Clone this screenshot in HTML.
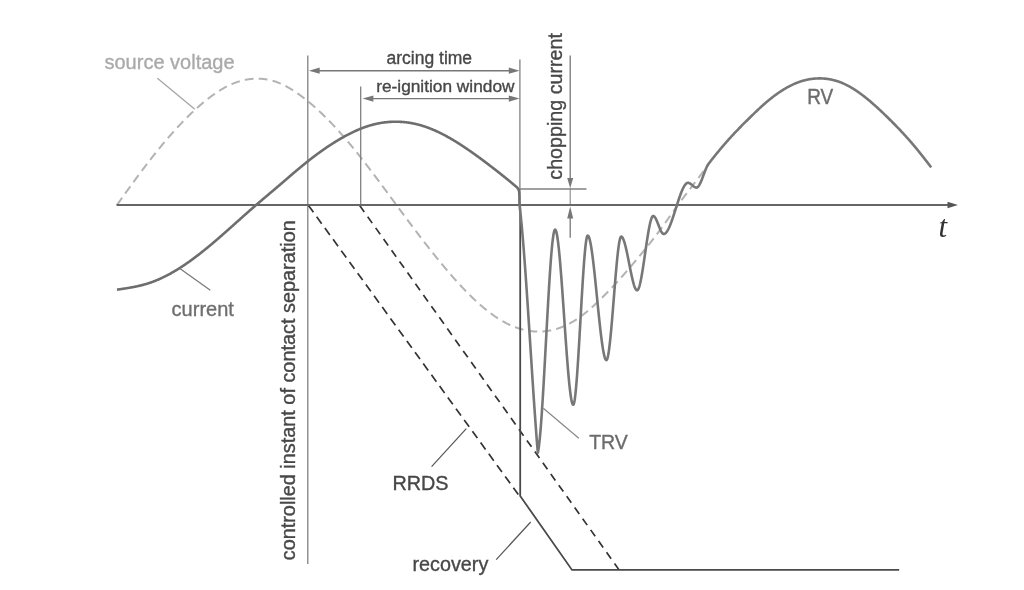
<!DOCTYPE html>
<html><head><meta charset="utf-8"><title>TRV diagram</title>
<style>html,body{margin:0;padding:0;background:#fff;}svg{display:block;}</style>
</head><body>
<svg width="1024" height="590" viewBox="0 0 1024 590">
<path d="M117.00,204.90 L117.50,204.21 L118.00,203.51 L118.50,202.81 L119.00,202.11 L119.50,201.42 L120.00,200.72 L120.50,200.02 L121.00,199.33 L121.50,198.63 L122.00,197.94 L122.50,197.24 L123.00,196.54 L123.50,195.85 L124.00,195.15 L124.50,194.46 L125.00,193.76 L125.50,193.07 L126.00,192.38 L126.50,191.68 L127.00,190.99 L127.50,190.30 L128.00,189.61 L128.50,188.92 L129.00,188.23 L129.50,187.54 L130.00,186.85 L130.50,186.16 L131.00,185.47 L131.50,184.78 L132.00,184.10 L132.50,183.41 L133.00,182.73 L133.50,182.04 L134.00,181.36 L134.50,180.68 L135.00,179.99 L135.50,179.31 L136.00,178.63 L136.50,177.95 L137.00,177.28 L137.50,176.60 L138.00,175.92 L138.50,175.25 L139.00,174.57 L139.50,173.90 L140.00,173.23 L140.50,172.56 L141.00,171.89 L141.50,171.22 L142.00,170.55 L142.50,169.89 L143.00,169.22 L143.50,168.56 L144.00,167.90 L144.50,167.23 L145.00,166.58 L145.50,165.92 L146.00,165.26 L146.50,164.60 L147.00,163.95 L147.50,163.30 L148.00,162.65 L148.50,162.00 L149.00,161.35 L149.50,160.70 L150.00,160.06 L150.50,159.41 L151.00,158.77 L151.50,158.13 L152.00,157.49 L152.50,156.86 L153.00,156.22 L153.50,155.59 L154.00,154.96 L154.50,154.33 L155.00,153.70 L155.50,153.07 L156.00,152.45 L156.50,151.82 L157.00,151.20 L157.50,150.58 L158.00,149.96 L158.50,149.35 L159.00,148.73 L159.50,148.12 L160.00,147.51 L160.50,146.90 L161.00,146.29 L161.50,145.69 L162.00,145.08 L162.50,144.48 L163.00,143.88 L163.50,143.28 L164.00,142.69 L164.50,142.09 L165.00,141.50 L165.50,140.91 L166.00,140.32 L166.50,139.74 L167.00,139.15 L167.50,138.57 L168.00,137.99 L168.50,137.41 L169.00,136.83 L169.50,136.26 L170.00,135.68 L170.50,135.11 L171.00,134.54 L171.50,133.98 L172.00,133.41 L172.50,132.85 L173.00,132.29 L173.50,131.73 L174.00,131.17 L174.50,130.62 L175.00,130.07 L175.50,129.52 L176.00,128.97 L176.50,128.42 L177.00,127.88 L177.50,127.34 L178.00,126.80 L178.50,126.26 L179.00,125.73 L179.50,125.19 L180.00,124.66 L180.50,124.13 L181.00,123.61 L181.50,123.08 L182.00,122.56 L182.50,122.04 L183.00,121.52 L183.50,121.01 L184.00,120.49 L184.50,119.98 L185.00,119.47 L185.50,118.97 L186.00,118.47 L186.50,117.96 L187.00,117.46 L187.50,116.97 L188.00,116.47 L188.50,115.98 L189.00,115.49 L189.50,115.00 L190.00,114.52 L190.50,114.04 L191.00,113.56 L191.50,113.08 L192.00,112.60 L192.50,112.13 L193.00,111.66 L193.50,111.19 L194.00,110.73 L194.50,110.26 L195.00,109.80 L195.50,109.35 L196.00,108.89 L196.50,108.44 L197.00,107.99 L197.50,107.54 L198.00,107.09 L198.50,106.65 L199.00,106.21 L199.50,105.77 L200.00,105.34 L200.50,104.91 L201.00,104.48 L201.50,104.05 L202.00,103.62 L202.50,103.20 L203.00,102.78 L203.50,102.37 L204.00,101.95 L204.50,101.54 L205.00,101.14 L205.50,100.73 L206.00,100.33 L206.50,99.93 L207.00,99.53 L207.50,99.14 L208.00,98.75 L208.50,98.36 L209.00,97.98 L209.50,97.60 L210.00,97.22 L210.50,96.84 L211.00,96.47 L211.50,96.10 L212.00,95.74 L212.50,95.38 L213.00,95.02 L213.50,94.66 L214.00,94.31 L214.50,93.96 L215.00,93.61 L215.50,93.27 L216.00,92.93 L216.50,92.60 L217.00,92.26 L217.50,91.93 L218.00,91.61 L218.50,91.29 L219.00,90.97 L219.50,90.65 L220.00,90.34 L220.50,90.04 L221.00,89.73 L221.50,89.43 L222.00,89.13 L222.50,88.84 L223.00,88.55 L223.50,88.27 L224.00,87.99 L224.50,87.71 L225.00,87.43 L225.50,87.16 L226.00,86.90 L226.50,86.64 L227.00,86.38 L227.50,86.12 L228.00,85.87 L228.50,85.63 L229.00,85.39 L229.50,85.15 L230.00,84.91 L230.50,84.68 L231.00,84.46 L231.50,84.24 L232.00,84.02 L232.50,83.81 L233.00,83.60 L233.50,83.39 L234.00,83.19 L234.50,83.00 L235.00,82.81 L235.50,82.62 L236.00,82.44 L236.50,82.26 L237.00,82.08 L237.50,81.91 L238.00,81.75 L238.50,81.59 L239.00,81.43 L239.50,81.28 L240.00,81.13 L240.50,80.99 L241.00,80.85 L241.50,80.72 L242.00,80.59 L242.50,80.46 L243.00,80.34 L243.50,80.22 L244.00,80.11 L244.50,80.00 L245.00,79.89 L245.50,79.79 L246.00,79.70 L246.50,79.61 L247.00,79.52 L247.50,79.44 L248.00,79.36 L248.50,79.28 L249.00,79.21 L249.50,79.15 L250.00,79.09 L250.50,79.03 L251.00,78.97 L251.50,78.92 L252.00,78.88 L252.50,78.84 L253.00,78.80 L253.50,78.77 L254.00,78.74 L254.50,78.72 L255.00,78.69 L255.50,78.68 L256.00,78.67 L256.50,78.66 L257.00,78.65 L257.50,78.65 L258.00,78.66 L258.50,78.67 L259.00,78.68 L259.50,78.70 L260.00,78.72 L260.50,78.74 L261.00,78.77 L261.50,78.81 L262.00,78.85 L262.50,78.89 L263.00,78.94 L263.50,78.99 L264.00,79.04 L264.50,79.10 L265.00,79.17 L265.50,79.24 L266.00,79.31 L266.50,79.39 L267.00,79.47 L267.50,79.56 L268.00,79.66 L268.50,79.75 L269.00,79.85 L269.50,79.96 L270.00,80.07 L270.50,80.19 L271.00,80.31 L271.50,80.44 L272.00,80.57 L272.50,80.70 L273.00,80.85 L273.50,80.99 L274.00,81.14 L274.50,81.30 L275.00,81.46 L275.50,81.62 L276.00,81.80 L276.50,81.97 L277.00,82.15 L277.50,82.34 L278.00,82.53 L278.50,82.73 L279.00,82.93 L279.50,83.13 L280.00,83.34 L280.50,83.56 L281.00,83.78 L281.50,84.00 L282.00,84.23 L282.50,84.47 L283.00,84.71 L283.50,84.95 L284.00,85.20 L284.50,85.45 L285.00,85.70 L285.50,85.96 L286.00,86.23 L286.50,86.50 L287.00,86.77 L287.50,87.05 L288.00,87.33 L288.50,87.61 L289.00,87.90 L289.50,88.19 L290.00,88.49 L290.50,88.79 L291.00,89.09 L291.50,89.40 L292.00,89.71 L292.50,90.03 L293.00,90.34 L293.50,90.67 L294.00,90.99 L294.50,91.32 L295.00,91.65 L295.50,91.99 L296.00,92.33 L296.50,92.67 L297.00,93.01 L297.50,93.36 L298.00,93.71 L298.50,94.07 L299.00,94.42 L299.50,94.78 L300.00,95.15 L300.50,95.51 L301.00,95.88 L301.50,96.25 L302.00,96.63 L302.50,97.00 L303.00,97.38 L303.50,97.77 L304.00,98.15 L304.50,98.54 L305.00,98.93 L305.50,99.32 L306.00,99.72 L306.50,100.12 L307.00,100.52 L307.50,100.93 L308.00,101.33 L308.50,101.74 L309.00,102.15 L309.50,102.57 L310.00,102.99 L310.50,103.41 L311.00,103.83 L311.50,104.26 L312.00,104.68 L312.50,105.11 L313.00,105.55 L313.50,105.98 L314.00,106.42 L314.50,106.86 L315.00,107.31 L315.50,107.75 L316.00,108.20 L316.50,108.65 L317.00,109.11 L317.50,109.56 L318.00,110.02 L318.50,110.48 L319.00,110.95 L319.50,111.41 L320.00,111.88 L320.50,112.35 L321.00,112.83 L321.50,113.30 L322.00,113.78 L322.50,114.26 L323.00,114.75 L323.50,115.23 L324.00,115.72 L324.50,116.21 L325.00,116.70 L325.50,117.20 L326.00,117.70 L326.50,118.20 L327.00,118.70 L327.50,119.20 L328.00,119.71 L328.50,120.22 L329.00,120.73 L329.50,121.24 L330.00,121.76 L330.50,122.28 L331.00,122.80 L331.50,123.32 L332.00,123.85 L332.50,124.37 L333.00,124.90 L333.50,125.43 L334.00,125.97 L334.50,126.50 L335.00,127.04 L335.50,127.58 L336.00,128.12 L336.50,128.67 L337.00,129.22 L337.50,129.76 L338.00,130.32 L338.50,130.87 L339.00,131.42 L339.50,131.98 L340.00,132.54 L340.50,133.10 L341.00,133.67 L341.50,134.23 L342.00,134.80 L342.50,135.37 L343.00,135.94 L343.50,136.51 L344.00,137.09 L344.50,137.67 L345.00,138.25 L345.50,138.83 L346.00,139.41 L346.50,140.00 L347.00,140.59 L347.50,141.18 L348.00,141.77 L348.50,142.36 L349.00,142.96 L349.50,143.55 L350.00,144.15 L350.50,144.75 L351.00,145.36 L351.50,145.96 L352.00,146.57 L352.50,147.18 L353.00,147.79 L353.50,148.40 L354.00,149.01 L354.50,149.63 L355.00,150.24 L355.50,150.86 L356.00,151.48 L356.50,152.10 L357.00,152.73 L357.50,153.35 L358.00,153.98 L358.50,154.61 L359.00,155.24 L359.50,155.87 L360.00,156.50 L360.50,157.13 L361.00,157.77 L361.50,158.41 L362.00,159.04 L362.50,159.68 L363.00,160.32 L363.50,160.97 L364.00,161.61 L364.50,162.25 L365.00,162.90 L365.50,163.55 L366.00,164.20 L366.50,164.85 L367.00,165.50 L367.50,166.15 L368.00,166.80 L368.50,167.45 L369.00,168.11 L369.50,168.77 L370.00,169.42 L370.50,170.08 L371.00,170.74 L371.50,171.40 L372.00,172.06 L372.50,172.72 L373.00,173.38 L373.50,174.05 L374.00,174.71 L374.50,175.38 L375.00,176.04 L375.50,176.71 L376.00,177.38 L376.50,178.04 L377.00,178.71 L377.50,179.38 L378.00,180.05 L378.50,180.72 L379.00,181.40 L379.50,182.07 L380.00,182.74 L380.50,183.41 L381.00,184.09 L381.50,184.76 L382.00,185.44 L382.50,186.11 L383.00,186.79 L383.50,187.46 L384.00,188.14 L384.50,188.81 L385.00,189.49 L385.50,190.17 L386.00,190.85 L386.50,191.52 L387.00,192.20 L387.50,192.88 L388.00,193.56 L388.50,194.24 L389.00,194.92 L389.50,195.59 L390.00,196.27 L390.50,196.95 L391.00,197.63 L391.50,198.31 L392.00,198.99 L392.50,199.67 L393.00,200.35 L393.50,201.03 L394.00,201.71 L394.50,202.39 L395.00,203.07 L395.50,203.74 L396.00,204.42 L396.50,205.10 L397.00,205.78 L397.50,206.46 L398.00,207.14 L398.50,207.81 L399.00,208.49 L399.50,209.17 L400.00,209.84 L400.50,210.52 L401.00,211.20 L401.50,211.87 L402.00,212.55 L402.50,213.22 L403.00,213.90 L403.50,214.57 L404.00,215.25 L404.50,215.92 L405.00,216.59 L405.50,217.27 L406.00,217.94 L406.50,218.61 L407.00,219.28 L407.50,219.95 L408.00,220.62 L408.50,221.29 L409.00,221.96 L409.50,222.63 L410.00,223.30 L410.50,223.97 L411.00,224.64 L411.50,225.30 L412.00,225.97 L412.50,226.63 L413.00,227.30 L413.50,227.96 L414.00,228.62 L414.50,229.29 L415.00,229.95 L415.50,230.61 L416.00,231.27 L416.50,231.93 L417.00,232.59 L417.50,233.25 L418.00,233.91 L418.50,234.56 L419.00,235.22 L419.50,235.87 L420.00,236.53 L420.50,237.18 L421.00,237.83 L421.50,238.48 L422.00,239.14 L422.50,239.79 L423.00,240.43 L423.50,241.08 L424.00,241.73 L424.50,242.38 L425.00,243.02 L425.50,243.66 L426.00,244.31 L426.50,244.95 L427.00,245.59 L427.50,246.23 L428.00,246.87 L428.50,247.51 L429.00,248.14 L429.50,248.78 L430.00,249.41 L430.50,250.05 L431.00,250.68 L431.50,251.31 L432.00,251.94 L432.50,252.57 L433.00,253.20 L433.50,253.82 L434.00,254.45 L434.50,255.07 L435.00,255.70 L435.50,256.32 L436.00,256.94 L436.50,257.56 L437.00,258.17 L437.50,258.79 L438.00,259.41 L438.50,260.02 L439.00,260.63 L439.50,261.24 L440.00,261.85 L440.50,262.46 L441.00,263.07 L441.50,263.67 L442.00,264.28 L442.50,264.88 L443.00,265.48 L443.50,266.08 L444.00,266.68 L444.50,267.27 L445.00,267.87 L445.50,268.46 L446.00,269.05 L446.50,269.64 L447.00,270.23 L447.50,270.82 L448.00,271.40 L448.50,271.99 L449.00,272.57 L449.50,273.15 L450.00,273.73 L450.50,274.31 L451.00,274.88 L451.50,275.45 L452.00,276.03 L452.50,276.60 L453.00,277.17 L453.50,277.73 L454.00,278.30 L454.50,278.86 L455.00,279.42 L455.50,279.98 L456.00,280.54 L456.50,281.09 L457.00,281.65 L457.50,282.20 L458.00,282.75 L458.50,283.29 L459.00,283.84 L459.50,284.38 L460.00,284.92 L460.50,285.46 L461.00,286.00 L461.50,286.53 L462.00,287.07 L462.50,287.60 L463.00,288.13 L463.50,288.65 L464.00,289.18 L464.50,289.70 L465.00,290.22 L465.50,290.73 L466.00,291.25 L466.50,291.76 L467.00,292.27 L467.50,292.78 L468.00,293.28 L468.50,293.79 L469.00,294.29 L469.50,294.78 L470.00,295.28 L470.50,295.77 L471.00,296.26 L471.50,296.75 L472.00,297.23 L472.50,297.72 L473.00,298.20 L473.50,298.67 L474.00,299.15 L474.50,299.62 L475.00,300.09 L475.50,300.56 L476.00,301.02 L476.50,301.48 L477.00,301.94 L477.50,302.39 L478.00,302.85 L478.50,303.30 L479.00,303.74 L479.50,304.19 L480.00,304.63 L480.50,305.07 L481.00,305.50 L481.50,305.93 L482.00,306.36 L482.50,306.79 L483.00,307.21 L483.50,307.63 L484.00,308.05 L484.50,308.46 L485.00,308.87 L485.50,309.28 L486.00,309.68 L486.50,310.09 L487.00,310.48 L487.50,310.88 L488.00,311.27 L488.50,311.66 L489.00,312.04 L489.50,312.42 L490.00,312.80 L490.50,313.18 L491.00,313.55 L491.50,313.92 L492.00,314.28 L492.50,314.64 L493.00,315.00 L493.50,315.35 L494.00,315.71 L494.50,316.05 L495.00,316.40 L495.50,316.74 L496.00,317.07 L496.50,317.41 L497.00,317.74 L497.50,318.06 L498.00,318.38 L498.50,318.70 L499.00,319.02 L499.50,319.33 L500.00,319.63 L500.50,319.94 L501.00,320.24 L501.50,320.53 L502.00,320.83 L502.50,321.11 L503.00,321.40 L503.50,321.68 L504.00,321.96 L504.50,322.23 L505.00,322.50 L505.50,322.76 L506.00,323.02 L506.50,323.28 L507.00,323.54 L507.50,323.79 L508.00,324.03 L508.50,324.27 L509.00,324.51 L509.50,324.75 L510.00,324.98 L510.50,325.21 L511.00,325.43 L511.50,325.65 L512.00,325.86 L512.50,326.07 L513.00,326.28 L513.50,326.49 L514.00,326.69 L514.50,326.88 L515.00,327.07 L515.50,327.26 L516.00,327.45 L516.50,327.63 L517.00,327.80 L517.50,327.97 L518.00,328.14 L518.50,328.31 L519.00,328.47 L519.50,328.62 L520.00,328.78 L520.50,328.93 L521.00,329.07 L521.50,329.21 L522.00,329.35 L522.50,329.48 L523.00,329.61 L523.50,329.73 L524.00,329.86 L524.50,329.97 L525.00,330.09 L525.50,330.19 L526.00,330.30 L526.50,330.40 L527.00,330.50 L527.50,330.59 L528.00,330.68 L528.50,330.76 L529.00,330.84 L529.50,330.92 L530.00,330.99 L530.50,331.06 L531.00,331.13 L531.50,331.19 L532.00,331.24 L532.50,331.30 L533.00,331.34 L533.50,331.39 L534.00,331.43 L534.50,331.46 L535.00,331.50 L535.50,331.52 L536.00,331.55 L536.50,331.57 L537.00,331.58 L537.50,331.59 L538.00,331.60 L538.50,331.61 L539.00,331.60 L539.50,331.60 L540.00,331.59 L540.50,331.58 L541.00,331.56 L541.50,331.54 L542.00,331.51 L542.50,331.48 L543.00,331.45 L543.50,331.41 L544.00,331.37 L544.50,331.32 L545.00,331.27 L545.50,331.22 L546.00,331.16 L546.50,331.09 L547.00,331.02 L547.50,330.95 L548.00,330.88 L548.50,330.80 L549.00,330.71 L549.50,330.62 L550.00,330.53 L550.50,330.43 L551.00,330.33 L551.50,330.23 L552.00,330.12 L552.50,330.00 L553.00,329.88 L553.50,329.76 L554.00,329.63 L554.50,329.50 L555.00,329.37 L555.50,329.23 L556.00,329.08 L556.50,328.94 L557.00,328.78 L557.50,328.63 L558.00,328.46 L558.50,328.30 L559.00,328.13 L559.50,327.95 L560.00,327.77 L560.50,327.59 L561.00,327.40 L561.50,327.21 L562.00,327.02 L562.50,326.82 L563.00,326.61 L563.50,326.40 L564.00,326.19 L564.50,325.97 L565.00,325.75 L565.50,325.52 L566.00,325.29 L566.50,325.05 L567.00,324.81 L567.50,324.57 L568.00,324.32 L568.50,324.07 L569.00,323.81 L569.50,323.55 L570.00,323.28 L570.50,323.01 L571.00,322.74 L571.50,322.46 L572.00,322.17 L572.50,321.88 L573.00,321.59 L573.50,321.29 L574.00,320.99 L574.50,320.68 L575.00,320.37 L575.50,320.06 L576.00,319.74 L576.50,319.41 L577.00,319.08 L577.50,318.75 L578.00,318.41 L578.50,318.07 L579.00,317.72 L579.50,317.37 L580.00,317.01 L580.50,316.65 L581.00,316.29 L581.50,315.92 L582.00,315.54 L582.50,315.16 L583.00,314.78 L583.50,314.39 L584.00,314.00 L584.50,313.61 L585.00,313.21 L585.50,312.81 L586.00,312.40 L586.50,311.99 L587.00,311.58 L587.50,311.16 L588.00,310.74 L588.50,310.31 L589.00,309.89 L589.50,309.45 L590.00,309.02 L590.50,308.58 L591.00,308.14 L591.50,307.70 L592.00,307.25 L592.50,306.80 L593.00,306.35 L593.50,305.89 L594.00,305.43 L594.50,304.97 L595.00,304.51 L595.50,304.04 L596.00,303.57 L596.50,303.10 L597.00,302.63 L597.50,302.15 L598.00,301.68 L598.50,301.20 L599.00,300.72 L599.50,300.23 L600.00,299.75 L600.50,299.26 L601.00,298.77 L601.50,298.28 L602.00,297.78 L602.50,297.29 L603.00,296.79 L603.50,296.29 L604.00,295.79 L604.50,295.29 L605.00,294.79 L605.50,294.28 L606.00,293.77 L606.50,293.26 L607.00,292.75 L607.50,292.24 L608.00,291.72 L608.50,291.20 L609.00,290.69 L609.50,290.17 L610.00,289.64 L610.50,289.12 L611.00,288.59 L611.50,288.07 L612.00,287.54 L612.50,287.01 L613.00,286.47 L613.50,285.94 L614.00,285.40 L614.50,284.87 L615.00,284.33 L615.50,283.79 L616.00,283.24 L616.50,282.70 L617.00,282.15 L617.50,281.61 L618.00,281.06 L618.50,280.50 L619.00,279.95 L619.50,279.40 L620.00,278.84 L620.50,278.28 L621.00,277.72 L621.50,277.16 L622.00,276.60 L622.50,276.04 L623.00,275.47 L623.50,274.90 L624.00,274.34 L624.50,273.77 L625.00,273.19 L625.50,272.62 L626.00,272.05 L626.50,271.47 L627.00,270.89 L627.50,270.31 L628.00,269.74 L628.50,269.15 L629.00,268.57 L629.50,267.99 L630.00,267.40 L630.50,266.82 L631.00,266.23 L631.50,265.64 L632.00,265.05 L632.50,264.46 L633.00,263.87 L633.50,263.27 L634.00,262.68 L634.50,262.08 L635.00,261.49 L635.50,260.89 L636.00,260.29 L636.50,259.69 L637.00,259.09 L637.50,258.49 L638.00,257.89 L638.50,257.29 L639.00,256.68 L639.50,256.08 L640.00,255.47 L640.50,254.86 L641.00,254.26 L641.50,253.65 L642.00,253.04 L642.50,252.43 L643.00,251.82 L643.50,251.20 L644.00,250.59 L644.50,249.98 L645.00,249.36 L645.50,248.74 L646.00,248.12 L646.50,247.50 L647.00,246.88 L647.50,246.26 L648.00,245.63 L648.50,245.01 L649.00,244.38 L649.50,243.75 L650.00,243.12 L650.50,242.49 L651.00,241.85 L651.50,241.21 L652.00,240.58 L652.50,239.93 L653.00,239.29 L653.50,238.65 L654.00,238.00 L654.50,237.35 L655.00,236.70 L655.50,236.05 L656.00,235.39 L656.50,234.73 L657.00,234.07 L657.50,233.41 L658.00,232.74 L658.50,232.08 L659.00,231.41 L659.50,230.73 L660.00,230.06 L660.50,229.38 L661.00,228.70 L661.50,228.01 L662.00,227.33 L662.50,226.64 L663.00,225.95 L663.50,225.26 L664.00,224.56 L664.50,223.87 L665.00,223.17 L665.50,222.47 L666.00,221.77 L666.50,221.07 L667.00,220.37 L667.50,219.67 L668.00,218.97 L668.50,218.26 L669.00,217.56 L669.50,216.86 L670.00,216.15 L670.50,215.45 L671.00,214.74 L671.50,214.04 L672.00,213.34 L672.50,212.64 L673.00,211.93 L673.50,211.23 L674.00,210.53 L674.50,209.83 L675.00,209.14 L675.50,208.44 L676.00,207.75 L676.50,207.05 L677.00,206.36 L677.50,205.67 L678.00,204.99 L678.50,204.30 L679.00,203.62 L679.50,202.94 L680.00,202.26 L680.50,201.58 L681.00,200.91 L681.50,200.23 L682.00,199.56 L682.50,198.89 L683.00,198.22 L683.50,197.55 L684.00,196.89 L684.50,196.22 L685.00,195.56 L685.50,194.89 L686.00,194.23 L686.50,193.57 L687.00,192.91 L687.50,192.25 L688.00,191.59 L688.50,190.93 L689.00,190.28 L689.50,189.62 L690.00,188.96 L690.50,188.31 L691.00,187.65 L691.50,187.00 L692.00,186.34 L692.50,185.69 L693.00,185.03 L693.50,184.38 L694.00,183.72 L694.50,183.07 L695.00,182.42 L695.50,181.76 L696.00,181.11 L696.50,180.45 L697.00,179.80 L697.50,179.14 L698.00,178.48 L698.50,177.83 L699.00,177.17 L699.50,176.51 L700.00,175.85 L700.50,175.19 L701.00,174.53 L701.50,173.87 L702.00,173.21 L702.50,172.54 L703.00,171.88 L703.50,171.22 L704.00,170.55 L704.50,169.89 L705.00,169.22 L705.50,168.56 L706.00,167.89 L706.50,167.22 L707.00,166.56 L707.50,165.89 L708.00,165.22 L708.50,164.56" fill="none" stroke="#b3b3b3" stroke-width="2" stroke-dasharray="8.8 5.2"/>
<line x1="307.8" y1="55.5" x2="307.8" y2="564" stroke="#808080" stroke-width="1.3"/>
<line x1="360.7" y1="86.5" x2="360.7" y2="205" stroke="#808080" stroke-width="1.3"/>
<line x1="519.9" y1="59.5" x2="519.9" y2="205" stroke="#808080" stroke-width="1.3"/>
<line x1="318.7" y1="70.7" x2="509.8" y2="70.7" stroke="#777" stroke-width="1.4"/><path d="M308.9,70.7 L319.7,67.60000000000001 L319.7,73.8 Z" fill="#777"/><path d="M519.6,70.7 L508.8,67.60000000000001 L508.8,73.8 Z" fill="#777"/>
<line x1="372.40000000000003" y1="98.6" x2="509.8" y2="98.6" stroke="#777" stroke-width="1.4"/><path d="M362.6,98.6 L373.40000000000003,95.5 L373.40000000000003,101.69999999999999 Z" fill="#777"/><path d="M519.6,98.6 L508.8,95.5 L508.8,101.69999999999999 Z" fill="#777"/>
<line x1="520" y1="189" x2="586.5" y2="189" stroke="#808080" stroke-width="1.3"/>
<line x1="570.2" y1="55.5" x2="570.2" y2="179" stroke="#777" stroke-width="1.3"/>
<path d="M570.2,188.2 L567.2,178 L573.2,178 Z" fill="#777"/>
<line x1="570.2" y1="216" x2="570.2" y2="237.8" stroke="#777" stroke-width="1.3"/>
<line x1="570.2" y1="188" x2="570.2" y2="205" stroke="#888" stroke-width="1.1"/>
<path d="M570.2,206.6 L567.2,218.6 L573.2,218.6 Z" fill="#777"/>
<line x1="308.5" y1="205.5" x2="518.3" y2="494.5" stroke="#333" stroke-width="1.7" stroke-dasharray="8.45 5.5"/>
<line x1="359.7" y1="205.5" x2="619.1" y2="569.9" stroke="#333" stroke-width="1.7" stroke-dasharray="7.9 5.83"/>
<path d="M520.2,205 L520.2,496 L572,569.9 L899.2,569.9" fill="none" stroke="#4a4a4a" stroke-width="1.8" stroke-linejoin="miter"/>
<line x1="116.5" y1="205" x2="948" y2="205" stroke="#666" stroke-width="2"/>
<path d="M958,205 L947.5,201.8 L947.5,208.2 Z" fill="#555"/>
<path d="M117.00,289.68 L117.50,289.61 L118.00,289.53 L118.50,289.46 L119.00,289.39 L119.50,289.31 L120.00,289.24 L120.50,289.17 L121.00,289.09 L121.50,289.02 L122.00,288.95 L122.50,288.87 L123.00,288.79 L123.50,288.72 L124.00,288.64 L124.50,288.56 L125.00,288.49 L125.50,288.41 L126.00,288.33 L126.50,288.25 L127.00,288.17 L127.50,288.09 L128.00,288.00 L128.50,287.92 L129.00,287.84 L129.50,287.75 L130.00,287.66 L130.50,287.57 L131.00,287.48 L131.50,287.39 L132.00,287.30 L132.50,287.21 L133.00,287.11 L133.50,287.02 L134.00,286.92 L134.50,286.82 L135.00,286.72 L135.50,286.62 L136.00,286.52 L136.50,286.41 L137.00,286.30 L137.50,286.19 L138.00,286.08 L138.50,285.97 L139.00,285.86 L139.50,285.74 L140.00,285.62 L140.50,285.50 L141.00,285.38 L141.50,285.25 L142.00,285.13 L142.50,285.00 L143.00,284.87 L143.50,284.73 L144.00,284.60 L144.50,284.46 L145.00,284.32 L145.50,284.17 L146.00,284.03 L146.50,283.88 L147.00,283.73 L147.50,283.58 L148.00,283.42 L148.50,283.26 L149.00,283.10 L149.50,282.93 L150.00,282.77 L150.50,282.59 L151.00,282.42 L151.50,282.24 L152.00,282.07 L152.50,281.88 L153.00,281.70 L153.50,281.51 L154.00,281.32 L154.50,281.13 L155.00,280.93 L155.50,280.73 L156.00,280.53 L156.50,280.32 L157.00,280.12 L157.50,279.91 L158.00,279.69 L158.50,279.48 L159.00,279.26 L159.50,279.04 L160.00,278.82 L160.50,278.59 L161.00,278.36 L161.50,278.13 L162.00,277.89 L162.50,277.66 L163.00,277.42 L163.50,277.18 L164.00,276.93 L164.50,276.69 L165.00,276.44 L165.50,276.18 L166.00,275.93 L166.50,275.67 L167.00,275.41 L167.50,275.15 L168.00,274.89 L168.50,274.62 L169.00,274.35 L169.50,274.08 L170.00,273.81 L170.50,273.53 L171.00,273.25 L171.50,272.97 L172.00,272.69 L172.50,272.40 L173.00,272.12 L173.50,271.83 L174.00,271.53 L174.50,271.24 L175.00,270.94 L175.50,270.64 L176.00,270.34 L176.50,270.04 L177.00,269.73 L177.50,269.43 L178.00,269.12 L178.50,268.80 L179.00,268.49 L179.50,268.17 L180.00,267.86 L180.50,267.53 L181.00,267.21 L181.50,266.89 L182.00,266.56 L182.50,266.23 L183.00,265.90 L183.50,265.57 L184.00,265.24 L184.50,264.90 L185.00,264.56 L185.50,264.22 L186.00,263.88 L186.50,263.53 L187.00,263.19 L187.50,262.84 L188.00,262.49 L188.50,262.14 L189.00,261.79 L189.50,261.43 L190.00,261.07 L190.50,260.71 L191.00,260.35 L191.50,259.99 L192.00,259.63 L192.50,259.26 L193.00,258.89 L193.50,258.52 L194.00,258.15 L194.50,257.78 L195.00,257.41 L195.50,257.03 L196.00,256.65 L196.50,256.27 L197.00,255.89 L197.50,255.51 L198.00,255.13 L198.50,254.74 L199.00,254.35 L199.50,253.97 L200.00,253.58 L200.50,253.18 L201.00,252.79 L201.50,252.40 L202.00,252.00 L202.50,251.60 L203.00,251.20 L203.50,250.80 L204.00,250.40 L204.50,250.00 L205.00,249.60 L205.50,249.19 L206.00,248.78 L206.50,248.37 L207.00,247.97 L207.50,247.55 L208.00,247.14 L208.50,246.73 L209.00,246.32 L209.50,245.90 L210.00,245.48 L210.50,245.07 L211.00,244.65 L211.50,244.23 L212.00,243.81 L212.50,243.39 L213.00,242.96 L213.50,242.54 L214.00,242.12 L214.50,241.69 L215.00,241.26 L215.50,240.84 L216.00,240.41 L216.50,239.98 L217.00,239.55 L217.50,239.12 L218.00,238.69 L218.50,238.25 L219.00,237.82 L219.50,237.39 L220.00,236.95 L220.50,236.52 L221.00,236.08 L221.50,235.65 L222.00,235.21 L222.50,234.77 L223.00,234.33 L223.50,233.89 L224.00,233.45 L224.50,233.01 L225.00,232.57 L225.50,232.13 L226.00,231.69 L226.50,231.25 L227.00,230.81 L227.50,230.36 L228.00,229.92 L228.50,229.48 L229.00,229.03 L229.50,228.59 L230.00,228.14 L230.50,227.70 L231.00,227.25 L231.50,226.81 L232.00,226.36 L232.50,225.92 L233.00,225.47 L233.50,225.03 L234.00,224.58 L234.50,224.13 L235.00,223.69 L235.50,223.24 L236.00,222.79 L236.50,222.35 L237.00,221.90 L237.50,221.45 L238.00,221.01 L238.50,220.56 L239.00,220.11 L239.50,219.67 L240.00,219.22 L240.50,218.77 L241.00,218.33 L241.50,217.88 L242.00,217.43 L242.50,216.99 L243.00,216.54 L243.50,216.10 L244.00,215.65 L244.50,215.21 L245.00,214.76 L245.50,214.32 L246.00,213.88 L246.50,213.43 L247.00,212.99 L247.50,212.55 L248.00,212.11 L248.50,211.66 L249.00,211.22 L249.50,210.78 L250.00,210.34 L250.50,209.90 L251.00,209.46 L251.50,209.02 L252.00,208.59 L252.50,208.15 L253.00,207.71 L253.50,207.27 L254.00,206.84 L254.50,206.40 L255.00,205.97 L255.50,205.54 L256.00,205.10 L256.50,204.67 L257.00,204.24 L257.50,203.81 L258.00,203.38 L258.50,202.95 L259.00,202.52 L259.50,202.09 L260.00,201.67 L260.50,201.24 L261.00,200.81 L261.50,200.39 L262.00,199.96 L262.50,199.54 L263.00,199.11 L263.50,198.69 L264.00,198.26 L264.50,197.84 L265.00,197.42 L265.50,196.99 L266.00,196.57 L266.50,196.15 L267.00,195.73 L267.50,195.30 L268.00,194.88 L268.50,194.46 L269.00,194.04 L269.50,193.62 L270.00,193.19 L270.50,192.77 L271.00,192.35 L271.50,191.93 L272.00,191.51 L272.50,191.08 L273.00,190.66 L273.50,190.24 L274.00,189.82 L274.50,189.39 L275.00,188.97 L275.50,188.55 L276.00,188.12 L276.50,187.70 L277.00,187.27 L277.50,186.85 L278.00,186.42 L278.50,186.00 L279.00,185.57 L279.50,185.14 L280.00,184.72 L280.50,184.29 L281.00,183.86 L281.50,183.43 L282.00,183.00 L282.50,182.57 L283.00,182.14 L283.50,181.71 L284.00,181.28 L284.50,180.85 L285.00,180.42 L285.50,179.99 L286.00,179.56 L286.50,179.13 L287.00,178.70 L287.50,178.27 L288.00,177.84 L288.50,177.40 L289.00,176.97 L289.50,176.54 L290.00,176.11 L290.50,175.68 L291.00,175.25 L291.50,174.83 L292.00,174.40 L292.50,173.97 L293.00,173.54 L293.50,173.11 L294.00,172.69 L294.50,172.26 L295.00,171.84 L295.50,171.41 L296.00,170.99 L296.50,170.57 L297.00,170.15 L297.50,169.73 L298.00,169.31 L298.50,168.89 L299.00,168.47 L299.50,168.05 L300.00,167.64 L300.50,167.22 L301.00,166.81 L301.50,166.40 L302.00,165.99 L302.50,165.58 L303.00,165.17 L303.50,164.76 L304.00,164.36 L304.50,163.95 L305.00,163.55 L305.50,163.15 L306.00,162.75 L306.50,162.35 L307.00,161.95 L307.50,161.55 L308.00,161.16 L308.50,160.76 L309.00,160.37 L309.50,159.98 L310.00,159.59 L310.50,159.20 L311.00,158.81 L311.50,158.43 L312.00,158.04 L312.50,157.66 L313.00,157.28 L313.50,156.90 L314.00,156.52 L314.50,156.14 L315.00,155.76 L315.50,155.39 L316.00,155.02 L316.50,154.65 L317.00,154.28 L317.50,153.91 L318.00,153.54 L318.50,153.17 L319.00,152.81 L319.50,152.45 L320.00,152.09 L320.50,151.73 L321.00,151.37 L321.50,151.01 L322.00,150.66 L322.50,150.31 L323.00,149.96 L323.50,149.61 L324.00,149.26 L324.50,148.91 L325.00,148.57 L325.50,148.22 L326.00,147.88 L326.50,147.54 L327.00,147.20 L327.50,146.87 L328.00,146.53 L328.50,146.20 L329.00,145.87 L329.50,145.54 L330.00,145.21 L330.50,144.88 L331.00,144.56 L331.50,144.24 L332.00,143.91 L332.50,143.60 L333.00,143.28 L333.50,142.96 L334.00,142.65 L334.50,142.34 L335.00,142.03 L335.50,141.72 L336.00,141.41 L336.50,141.11 L337.00,140.80 L337.50,140.50 L338.00,140.20 L338.50,139.90 L339.00,139.61 L339.50,139.32 L340.00,139.02 L340.50,138.73 L341.00,138.45 L341.50,138.16 L342.00,137.87 L342.50,137.59 L343.00,137.31 L343.50,137.03 L344.00,136.76 L344.50,136.48 L345.00,136.21 L345.50,135.94 L346.00,135.67 L346.50,135.40 L347.00,135.14 L347.50,134.88 L348.00,134.61 L348.50,134.36 L349.00,134.10 L349.50,133.84 L350.00,133.59 L350.50,133.34 L351.00,133.09 L351.50,132.84 L352.00,132.60 L352.50,132.36 L353.00,132.12 L353.50,131.88 L354.00,131.64 L354.50,131.41 L355.00,131.18 L355.50,130.95 L356.00,130.72 L356.50,130.50 L357.00,130.28 L357.50,130.06 L358.00,129.84 L358.50,129.63 L359.00,129.42 L359.50,129.21 L360.00,129.00 L360.50,128.80 L361.00,128.60 L361.50,128.40 L362.00,128.21 L362.50,128.01 L363.00,127.82 L363.50,127.64 L364.00,127.45 L364.50,127.27 L365.00,127.09 L365.50,126.92 L366.00,126.75 L366.50,126.58 L367.00,126.41 L367.50,126.24 L368.00,126.08 L368.50,125.92 L369.00,125.77 L369.50,125.62 L370.00,125.47 L370.50,125.32 L371.00,125.17 L371.50,125.03 L372.00,124.89 L372.50,124.76 L373.00,124.63 L373.50,124.50 L374.00,124.37 L374.50,124.25 L375.00,124.12 L375.50,124.01 L376.00,123.89 L376.50,123.78 L377.00,123.67 L377.50,123.56 L378.00,123.46 L378.50,123.36 L379.00,123.26 L379.50,123.17 L380.00,123.08 L380.50,122.99 L381.00,122.91 L381.50,122.83 L382.00,122.75 L382.50,122.67 L383.00,122.60 L383.50,122.53 L384.00,122.46 L384.50,122.40 L385.00,122.34 L385.50,122.28 L386.00,122.22 L386.50,122.17 L387.00,122.12 L387.50,122.08 L388.00,122.03 L388.50,121.99 L389.00,121.96 L389.50,121.92 L390.00,121.89 L390.50,121.86 L391.00,121.83 L391.50,121.81 L392.00,121.79 L392.50,121.77 L393.00,121.76 L393.50,121.74 L394.00,121.73 L394.50,121.73 L395.00,121.72 L395.50,121.72 L396.00,121.72 L396.50,121.73 L397.00,121.73 L397.50,121.74 L398.00,121.75 L398.50,121.77 L399.00,121.79 L399.50,121.81 L400.00,121.83 L400.50,121.85 L401.00,121.88 L401.50,121.91 L402.00,121.95 L402.50,121.98 L403.00,122.02 L403.50,122.07 L404.00,122.11 L404.50,122.16 L405.00,122.21 L405.50,122.26 L406.00,122.32 L406.50,122.38 L407.00,122.44 L407.50,122.51 L408.00,122.57 L408.50,122.65 L409.00,122.72 L409.50,122.80 L410.00,122.88 L410.50,122.96 L411.00,123.04 L411.50,123.13 L412.00,123.22 L412.50,123.32 L413.00,123.41 L413.50,123.51 L414.00,123.62 L414.50,123.72 L415.00,123.83 L415.50,123.94 L416.00,124.06 L416.50,124.18 L417.00,124.30 L417.50,124.42 L418.00,124.55 L418.50,124.68 L419.00,124.81 L419.50,124.94 L420.00,125.08 L420.50,125.22 L421.00,125.37 L421.50,125.52 L422.00,125.67 L422.50,125.82 L423.00,125.98 L423.50,126.13 L424.00,126.30 L424.50,126.46 L425.00,126.63 L425.50,126.80 L426.00,126.97 L426.50,127.15 L427.00,127.33 L427.50,127.51 L428.00,127.69 L428.50,127.88 L429.00,128.07 L429.50,128.26 L430.00,128.45 L430.50,128.65 L431.00,128.85 L431.50,129.05 L432.00,129.26 L432.50,129.47 L433.00,129.68 L433.50,129.89 L434.00,130.11 L434.50,130.32 L435.00,130.54 L435.50,130.77 L436.00,130.99 L436.50,131.22 L437.00,131.45 L437.50,131.68 L438.00,131.91 L438.50,132.15 L439.00,132.39 L439.50,132.63 L440.00,132.87 L440.50,133.12 L441.00,133.37 L441.50,133.62 L442.00,133.87 L442.50,134.13 L443.00,134.38 L443.50,134.64 L444.00,134.90 L444.50,135.17 L445.00,135.43 L445.50,135.70 L446.00,135.97 L446.50,136.24 L447.00,136.51 L447.50,136.79 L448.00,137.07 L448.50,137.35 L449.00,137.63 L449.50,137.91 L450.00,138.20 L450.50,138.48 L451.00,138.77 L451.50,139.06 L452.00,139.36 L452.50,139.65 L453.00,139.95 L453.50,140.25 L454.00,140.55 L454.50,140.85 L455.00,141.15 L455.50,141.46 L456.00,141.76 L456.50,142.07 L457.00,142.38 L457.50,142.69 L458.00,143.01 L458.50,143.32 L459.00,143.64 L459.50,143.96 L460.00,144.28 L460.50,144.60 L461.00,144.92 L461.50,145.25 L462.00,145.57 L462.50,145.90 L463.00,146.23 L463.50,146.56 L464.00,146.89 L464.50,147.22 L465.00,147.56 L465.50,147.89 L466.00,148.23 L466.50,148.57 L467.00,148.91 L467.50,149.25 L468.00,149.59 L468.50,149.94 L469.00,150.28 L469.50,150.63 L470.00,150.98 L470.50,151.32 L471.00,151.67 L471.50,152.02 L472.00,152.38 L472.50,152.73 L473.00,153.08 L473.50,153.44 L474.00,153.80 L474.50,154.15 L475.00,154.51 L475.50,154.87 L476.00,155.23 L476.50,155.59 L477.00,155.96 L477.50,156.32 L478.00,156.68 L478.50,157.05 L479.00,157.42 L479.50,157.78 L480.00,158.15 L480.50,158.52 L481.00,158.89 L481.50,159.26 L482.00,159.63 L482.50,160.00 L483.00,160.38 L483.50,160.75 L484.00,161.12 L484.50,161.50 L485.00,161.88 L485.50,162.25 L486.00,162.63 L486.50,163.01 L487.00,163.38 L487.50,163.76 L488.00,164.14 L488.50,164.52 L489.00,164.90 L489.50,165.29 L490.00,165.67 L490.50,166.05 L491.00,166.43 L491.50,166.81 L492.00,167.20 L492.50,167.58 L493.00,167.97 L493.50,168.35 L494.00,168.74 L494.50,169.13 L495.00,169.51 L495.50,169.90 L496.00,170.29 L496.50,170.68 L497.00,171.07 L497.50,171.46 L498.00,171.85 L498.50,172.24 L499.00,172.64 L499.50,173.03 L500.00,173.43 L500.50,173.82 L501.00,174.22 L501.50,174.62 L502.00,175.01 L502.50,175.41 L503.00,175.81 L503.50,176.21 L504.00,176.61 L504.50,177.02 L505.00,177.42 L505.50,177.83 L506.00,178.23 L506.50,178.64 L507.00,179.04 L507.50,179.45 L508.00,179.86 L508.50,180.27 L509.00,180.68 L509.50,181.09 L510.00,181.50 L510.50,181.92 L511.00,182.33 L511.50,182.74 L512.00,183.16 L512.50,183.57 L513.00,183.98 L513.50,184.40 L514.00,184.81 L514.50,185.23 L515.00,185.65 L515.50,186.06 L516.00,186.48 L516.50,186.89 L517.00,187.31 L518.20,189.00 L518.80,190.00 L519.20,192.00 L519.40,196.00 L519.50,205.00" fill="none" stroke="#6e6e6e" stroke-width="2.6" stroke-linejoin="round"/>
<path d="M519.50,205.00 L519.75,207.08 L520.01,209.24 L520.26,211.49 L520.52,213.82 L520.77,216.24 L521.02,218.73 L521.28,221.30 L521.53,223.94 L521.79,226.66 L522.04,229.44 L522.30,232.30 L522.55,235.22 L522.80,238.20 L523.06,241.25 L523.31,244.35 L523.57,247.52 L523.82,250.74 L524.08,254.01 L524.33,257.34 L524.58,260.71 L524.84,264.14 L525.09,267.60 L525.35,271.11 L525.60,274.67 L525.85,278.26 L526.11,281.89 L526.36,285.55 L526.62,289.25 L526.87,292.97 L527.12,296.73 L527.38,300.51 L527.63,304.32 L527.89,308.15 L528.14,312.00 L528.40,315.87 L528.65,319.75 L528.90,323.65 L529.16,327.56 L529.41,331.48 L529.67,335.41 L529.92,339.34 L530.17,343.28 L530.43,347.22 L530.68,351.16 L530.94,355.09 L531.19,359.03 L531.45,362.95 L531.70,366.87 L531.95,370.77 L532.21,374.66 L532.46,378.54 L532.72,382.40 L532.97,386.24 L533.22,390.06 L533.48,393.86 L533.73,397.63 L533.99,401.37 L534.24,405.09 L534.50,408.77 L534.75,412.42 L535.00,416.03 L535.26,419.60 L535.51,423.14 L535.77,426.63 L536.02,430.08 L536.27,433.48 L536.53,436.83 L536.78,440.14 L537.04,443.39 L537.29,446.58 L537.55,449.72 L537.80,452.80 L538.05,451.67 L538.31,450.31 L538.56,448.75 L538.82,446.97 L539.07,444.99 L539.33,442.82 L539.58,440.46 L539.84,437.92 L540.09,435.21 L540.34,432.34 L540.60,429.30 L540.85,426.12 L541.11,422.79 L541.36,419.33 L541.62,415.74 L541.87,412.02 L542.12,408.19 L542.38,404.26 L542.63,400.22 L542.89,396.09 L543.14,391.88 L543.40,387.58 L543.65,383.22 L543.91,378.79 L544.16,374.30 L544.41,369.77 L544.67,365.19 L544.92,360.57 L545.18,355.93 L545.43,351.27 L545.69,346.59 L545.94,341.91 L546.20,337.23 L546.45,332.55 L546.70,327.89 L546.96,323.25 L547.21,318.64 L547.47,314.07 L547.72,309.54 L547.98,305.06 L548.23,300.64 L548.49,296.29 L548.74,292.01 L548.99,287.81 L549.25,283.69 L549.50,279.67 L549.76,275.75 L550.01,271.94 L550.27,268.25 L550.52,264.67 L550.77,261.23 L551.03,257.93 L551.28,254.77 L551.54,251.76 L551.79,248.91 L552.05,246.22 L552.30,243.71 L552.56,241.38 L552.81,239.24 L553.06,237.30 L553.32,235.55 L553.57,234.02 L553.83,232.70 L554.08,231.60 L554.34,230.74 L554.59,230.11 L554.85,229.73 L555.10,229.60 L555.35,229.70 L555.61,230.01 L555.86,230.51 L556.12,231.20 L556.37,232.08 L556.63,233.14 L556.88,234.37 L557.14,235.77 L557.39,237.33 L557.65,239.04 L557.90,240.91 L558.16,242.91 L558.41,245.06 L558.67,247.34 L558.92,249.74 L559.18,252.27 L559.43,254.91 L559.69,257.66 L559.94,260.51 L560.20,263.45 L560.45,266.49 L560.71,269.62 L560.96,272.82 L561.22,276.10 L561.47,279.44 L561.73,282.85 L561.98,286.31 L562.24,289.82 L562.49,293.37 L562.75,296.97 L563.00,300.59 L563.26,304.24 L563.51,307.92 L563.77,311.60 L564.02,315.30 L564.28,319.00 L564.53,322.70 L564.79,326.38 L565.04,330.06 L565.30,333.71 L565.55,337.33 L565.81,340.93 L566.06,344.48 L566.32,347.99 L566.57,351.45 L566.83,354.86 L567.08,358.20 L567.34,361.48 L567.59,364.68 L567.85,367.81 L568.10,370.85 L568.36,373.79 L568.61,376.64 L568.87,379.39 L569.12,382.03 L569.38,384.56 L569.63,386.96 L569.89,389.24 L570.14,391.39 L570.40,393.39 L570.65,395.26 L570.91,396.97 L571.16,398.53 L571.42,399.93 L571.67,401.16 L571.93,402.22 L572.18,403.10 L572.44,403.79 L572.69,404.29 L572.95,404.60 L573.20,404.70 L573.45,404.55 L573.71,404.09 L573.96,403.34 L574.22,402.32 L574.47,401.02 L574.73,399.47 L574.98,397.68 L575.24,395.64 L575.49,393.38 L575.74,390.91 L576.00,388.24 L576.25,385.37 L576.51,382.32 L576.76,379.11 L577.02,375.73 L577.27,372.21 L577.52,368.55 L577.78,364.76 L578.03,360.86 L578.29,356.85 L578.54,352.75 L578.80,348.57 L579.05,344.32 L579.31,340.01 L579.56,335.65 L579.81,331.25 L580.07,326.82 L580.32,322.37 L580.58,317.93 L580.83,313.48 L581.09,309.05 L581.34,304.65 L581.59,300.29 L581.85,295.98 L582.10,291.73 L582.36,287.55 L582.61,283.45 L582.87,279.44 L583.12,275.54 L583.38,271.75 L583.63,268.09 L583.88,264.57 L584.14,261.19 L584.39,257.98 L584.65,254.93 L584.90,252.06 L585.16,249.39 L585.41,246.92 L585.66,244.66 L585.92,242.62 L586.17,240.83 L586.43,239.28 L586.68,237.98 L586.94,236.96 L587.19,236.21 L587.45,235.75 L587.70,235.60 L587.96,235.67 L588.21,235.88 L588.47,236.21 L588.72,236.68 L588.98,237.27 L589.24,237.98 L589.49,238.81 L589.75,239.76 L590.01,240.81 L590.26,241.97 L590.52,243.23 L590.77,244.59 L591.03,246.04 L591.29,247.58 L591.54,249.21 L591.80,250.92 L592.05,252.71 L592.31,254.58 L592.57,256.51 L592.82,258.51 L593.08,260.58 L593.34,262.71 L593.59,264.89 L593.85,267.12 L594.10,269.40 L594.36,271.73 L594.62,274.10 L594.87,276.50 L595.13,278.93 L595.38,281.40 L595.64,283.89 L595.90,286.40 L596.15,288.92 L596.41,291.46 L596.67,294.01 L596.92,296.57 L597.18,299.13 L597.43,301.69 L597.69,304.24 L597.95,306.78 L598.20,309.30 L598.46,311.81 L598.72,314.30 L598.97,316.77 L599.23,319.20 L599.48,321.60 L599.74,323.97 L600.00,326.30 L600.25,328.58 L600.51,330.81 L600.76,332.99 L601.02,335.12 L601.28,337.19 L601.53,339.19 L601.79,341.12 L602.05,342.99 L602.30,344.78 L602.56,346.49 L602.81,348.12 L603.07,349.66 L603.33,351.11 L603.58,352.47 L603.84,353.73 L604.09,354.89 L604.35,355.94 L604.61,356.89 L604.86,357.72 L605.12,358.43 L605.38,359.02 L605.63,359.49 L605.89,359.82 L606.14,360.03 L606.40,360.10 L606.66,359.99 L606.91,359.67 L607.17,359.14 L607.42,358.42 L607.68,357.50 L607.93,356.41 L608.19,355.14 L608.44,353.70 L608.70,352.10 L608.95,350.35 L609.21,348.46 L609.46,346.43 L609.72,344.27 L609.97,341.99 L610.23,339.59 L610.48,337.09 L610.74,334.49 L610.99,331.80 L611.25,329.02 L611.50,326.17 L611.76,323.25 L612.01,320.27 L612.27,317.24 L612.52,314.16 L612.78,311.04 L613.03,307.90 L613.29,304.73 L613.54,301.54 L613.80,298.35 L614.06,295.16 L614.31,291.97 L614.57,288.80 L614.82,285.66 L615.08,282.54 L615.33,279.46 L615.59,276.43 L615.84,273.45 L616.10,270.53 L616.35,267.68 L616.61,264.90 L616.86,262.21 L617.12,259.61 L617.37,257.11 L617.63,254.71 L617.88,252.43 L618.14,250.27 L618.39,248.24 L618.65,246.35 L618.90,244.60 L619.16,243.00 L619.41,241.56 L619.67,240.29 L619.92,239.20 L620.18,238.28 L620.43,237.56 L620.69,237.03 L620.94,236.71 L621.20,236.60 L621.46,236.64 L621.71,236.76 L621.97,236.97 L622.23,237.24 L622.48,237.59 L622.74,238.01 L623.00,238.50 L623.25,239.05 L623.51,239.67 L623.76,240.34 L624.02,241.07 L624.28,241.86 L624.53,242.69 L624.79,243.58 L625.05,244.51 L625.30,245.48 L625.56,246.50 L625.82,247.55 L626.07,248.64 L626.33,249.76 L626.59,250.91 L626.84,252.09 L627.10,253.29 L627.35,254.51 L627.61,255.75 L627.87,257.01 L628.12,258.28 L628.38,259.56 L628.64,260.86 L628.89,262.15 L629.15,263.45 L629.41,264.75 L629.66,266.04 L629.92,267.34 L630.18,268.62 L630.43,269.89 L630.69,271.15 L630.95,272.39 L631.20,273.61 L631.46,274.81 L631.71,275.99 L631.97,277.14 L632.23,278.26 L632.48,279.35 L632.74,280.40 L633.00,281.42 L633.25,282.39 L633.51,283.32 L633.77,284.21 L634.02,285.04 L634.28,285.83 L634.54,286.56 L634.79,287.23 L635.05,287.85 L635.30,288.40 L635.56,288.89 L635.82,289.31 L636.07,289.66 L636.33,289.93 L636.59,290.14 L636.84,290.26 L637.10,290.30 L637.36,290.24 L637.61,290.08 L637.87,289.81 L638.12,289.44 L638.38,288.97 L638.63,288.41 L638.89,287.75 L639.14,287.01 L639.40,286.18 L639.66,285.28 L639.91,284.30 L640.17,283.24 L640.42,282.11 L640.68,280.92 L640.93,279.67 L641.19,278.36 L641.44,276.99 L641.70,275.57 L641.96,274.10 L642.21,272.59 L642.47,271.04 L642.72,269.45 L642.98,267.82 L643.23,266.17 L643.49,264.49 L643.74,262.78 L644.00,261.06 L644.26,259.32 L644.51,257.56 L644.77,255.80 L645.02,254.03 L645.28,252.27 L645.53,250.50 L645.79,248.74 L646.04,246.98 L646.30,245.24 L646.56,243.52 L646.81,241.81 L647.07,240.13 L647.32,238.48 L647.58,236.85 L647.83,235.26 L648.09,233.71 L648.34,232.20 L648.60,230.73 L648.86,229.31 L649.11,227.94 L649.37,226.63 L649.62,225.38 L649.88,224.19 L650.13,223.06 L650.39,222.00 L650.64,221.02 L650.90,220.12 L651.16,219.29 L651.41,218.55 L651.67,217.89 L651.92,217.33 L652.18,216.86 L652.43,216.49 L652.69,216.22 L652.94,216.06 L653.20,216.00 L653.46,216.03 L653.71,216.12 L653.97,216.28 L654.22,216.48 L654.48,216.74 L654.74,217.04 L654.99,217.39 L655.25,217.79 L655.50,218.22 L655.76,218.69 L656.02,219.19 L656.27,219.72 L656.53,220.28 L656.79,220.86 L657.04,221.46 L657.30,222.08 L657.55,222.72 L657.81,223.36 L658.07,224.01 L658.32,224.67 L658.58,225.33 L658.83,225.99 L659.09,226.64 L659.35,227.28 L659.60,227.92 L659.86,228.54 L660.11,229.14 L660.37,229.72 L660.63,230.28 L660.88,230.81 L661.14,231.31 L661.40,231.78 L661.65,232.21 L661.91,232.61 L662.16,232.96 L662.42,233.26 L662.68,233.52 L662.93,233.72 L663.19,233.88 L663.44,233.97 L663.70,234.00 L663.95,233.98 L664.21,233.93 L664.46,233.85 L664.71,233.74 L664.97,233.60 L665.22,233.43 L665.47,233.22 L665.73,232.99 L665.98,232.73 L666.23,232.45 L666.48,232.14 L666.74,231.80 L666.99,231.44 L667.24,231.05 L667.50,230.64 L667.75,230.21 L668.00,229.75 L668.26,229.28 L668.51,228.78 L668.76,228.26 L669.02,227.72 L669.27,227.17 L669.52,226.59 L669.78,226.00 L670.03,225.39 L670.28,224.77 L670.53,224.13 L670.79,223.47 L671.04,222.81 L671.29,222.12 L671.55,221.43 L671.80,220.73 L672.05,220.01 L672.31,219.28 L672.56,218.55 L672.81,217.80 L673.07,217.05 L673.32,216.28 L673.57,215.52 L673.83,214.74 L674.08,213.96 L674.33,213.17 L674.58,212.39 L674.84,211.59 L675.09,210.80 L675.34,210.00 L675.60,209.20 L675.85,208.40 L676.10,207.60 L676.36,206.80 L676.61,206.00 L676.86,205.21 L677.12,204.41 L677.37,203.63 L677.62,202.84 L677.88,202.06 L678.13,201.28 L678.38,200.52 L678.63,199.75 L678.89,199.00 L679.14,198.25 L679.39,197.52 L679.65,196.79 L679.90,196.07 L680.15,195.37 L680.41,194.68 L680.66,193.99 L680.91,193.33 L681.17,192.67 L681.42,192.03 L681.67,191.41 L681.92,190.80 L682.18,190.21 L682.43,189.63 L682.68,189.08 L682.94,188.54 L683.19,188.02 L683.44,187.53 L683.70,187.05 L683.95,186.59 L684.20,186.16 L684.46,185.75 L684.71,185.36 L684.96,185.00 L685.22,184.66 L685.47,184.35 L685.72,184.07 L685.98,183.81 L686.23,183.58 L686.48,183.38 L686.73,183.20 L686.99,183.06 L687.24,182.95 L687.49,182.87 L687.75,182.82 L688.00,182.80 L688.26,182.81 L688.52,182.85 L688.77,182.91 L689.03,182.99 L689.29,183.10 L689.55,183.22 L689.80,183.36 L690.06,183.51 L690.32,183.68 L690.58,183.86 L690.83,184.04 L691.09,184.24 L691.35,184.45 L691.61,184.66 L691.86,184.87 L692.12,185.09 L692.38,185.31 L692.64,185.53 L692.89,185.74 L693.15,185.95 L693.41,186.16 L693.67,186.36 L693.92,186.54 L694.18,186.72 L694.44,186.89 L694.70,187.04 L694.95,187.18 L695.21,187.30 L695.47,187.41 L695.73,187.49 L695.98,187.55 L696.24,187.59 L696.50,187.60 L696.76,187.57 L697.02,187.50 L697.28,187.38 L697.54,187.21 L697.80,187.00 L698.06,186.75 L698.32,186.45 L698.58,186.12 L698.84,185.75 L699.10,185.35 L699.36,184.92 L699.61,184.46 L699.87,183.96 L700.13,183.44 L700.39,182.90 L700.65,182.33 L700.91,181.74 L701.17,181.13 L701.43,180.51 L701.69,179.87 L701.95,179.21 L702.21,178.55 L702.47,177.87 L702.73,177.19 L702.99,176.50 L703.25,175.80 L703.51,175.11 L703.77,174.41 L704.03,173.71 L704.29,173.02 L704.55,172.34 L704.81,171.66 L705.07,170.99 L705.33,170.33 L705.59,169.68 L705.84,169.05 L706.10,168.43 L706.36,167.83 L706.62,167.26 L706.88,166.70 L707.14,166.17 L707.40,165.67 L707.66,165.19 L707.92,164.74 L708.18,164.33 L708.44,163.94 L708.70,163.60 L709.20,162.96 L709.70,162.33 L710.20,161.70 L710.70,161.06 L711.20,160.43 L711.70,159.80 L712.20,159.17 L712.70,158.54 L713.20,157.91 L713.70,157.28 L714.20,156.65 L714.70,156.03 L715.20,155.41 L715.70,154.78 L716.20,154.16 L716.70,153.55 L717.20,152.93 L717.70,152.31 L718.20,151.70 L718.70,151.09 L719.20,150.49 L719.70,149.88 L720.20,149.28 L720.70,148.68 L721.20,148.09 L721.70,147.49 L722.20,146.90 L722.70,146.31 L723.20,145.73 L723.70,145.15 L724.20,144.57 L724.70,143.99 L725.20,143.42 L725.70,142.84 L726.20,142.27 L726.70,141.71 L727.20,141.14 L727.70,140.58 L728.20,140.02 L728.70,139.46 L729.20,138.91 L729.70,138.36 L730.20,137.81 L730.70,137.26 L731.20,136.71 L731.70,136.17 L732.20,135.63 L732.70,135.09 L733.20,134.55 L733.70,134.02 L734.20,133.48 L734.70,132.95 L735.20,132.42 L735.70,131.90 L736.20,131.37 L736.70,130.85 L737.20,130.33 L737.70,129.81 L738.20,129.29 L738.70,128.77 L739.20,128.26 L739.70,127.74 L740.20,127.23 L740.70,126.72 L741.20,126.22 L741.70,125.71 L742.20,125.20 L742.70,124.70 L743.20,124.20 L743.70,123.69 L744.20,123.19 L744.70,122.69 L745.20,122.20 L745.70,121.70 L746.20,121.20 L746.70,120.71 L747.20,120.21 L747.70,119.72 L748.20,119.23 L748.70,118.73 L749.20,118.24 L749.70,117.75 L750.20,117.26 L750.70,116.77 L751.20,116.28 L751.70,115.79 L752.20,115.31 L752.70,114.82 L753.20,114.34 L753.70,113.85 L754.20,113.37 L754.70,112.89 L755.20,112.41 L755.70,111.93 L756.20,111.45 L756.70,110.97 L757.20,110.50 L757.70,110.03 L758.20,109.56 L758.70,109.09 L759.20,108.62 L759.70,108.16 L760.20,107.70 L760.70,107.24 L761.20,106.78 L761.70,106.32 L762.20,105.87 L762.70,105.42 L763.20,104.98 L763.70,104.53 L764.20,104.09 L764.70,103.65 L765.20,103.22 L765.70,102.79 L766.20,102.36 L766.70,101.93 L767.20,101.51 L767.70,101.09 L768.20,100.68 L768.70,100.26 L769.20,99.85 L769.70,99.45 L770.20,99.05 L770.70,98.65 L771.20,98.25 L771.70,97.86 L772.20,97.47 L772.70,97.08 L773.20,96.70 L773.70,96.32 L774.20,95.94 L774.70,95.57 L775.20,95.20 L775.70,94.84 L776.20,94.48 L776.70,94.12 L777.20,93.76 L777.70,93.41 L778.20,93.06 L778.70,92.72 L779.20,92.38 L779.70,92.04 L780.20,91.70 L780.70,91.37 L781.20,91.05 L781.70,90.72 L782.20,90.40 L782.70,90.09 L783.20,89.78 L783.70,89.47 L784.20,89.16 L784.70,88.86 L785.20,88.57 L785.70,88.27 L786.20,87.98 L786.70,87.70 L787.20,87.42 L787.70,87.14 L788.20,86.87 L788.70,86.60 L789.20,86.33 L789.70,86.07 L790.20,85.81 L790.70,85.56 L791.20,85.31 L791.70,85.07 L792.20,84.83 L792.70,84.59 L793.20,84.36 L793.70,84.13 L794.20,83.91 L794.70,83.69 L795.20,83.48 L795.70,83.27 L796.20,83.07 L796.70,82.87 L797.20,82.67 L797.70,82.48 L798.20,82.29 L798.70,82.11 L799.20,81.93 L799.70,81.76 L800.20,81.59 L800.70,81.42 L801.20,81.26 L801.70,81.11 L802.20,80.96 L802.70,80.81 L803.20,80.67 L803.70,80.53 L804.20,80.40 L804.70,80.27 L805.20,80.14 L805.70,80.02 L806.20,79.91 L806.70,79.79 L807.20,79.69 L807.70,79.58 L808.20,79.49 L808.70,79.39 L809.20,79.30 L809.70,79.22 L810.20,79.13 L810.70,79.06 L811.20,78.99 L811.70,78.92 L812.20,78.85 L812.70,78.79 L813.20,78.74 L813.70,78.69 L814.20,78.64 L814.70,78.60 L815.20,78.56 L815.70,78.52 L816.20,78.49 L816.70,78.47 L817.20,78.45 L817.70,78.43 L818.20,78.41 L818.70,78.41 L819.20,78.40 L819.70,78.40 L820.20,78.40 L820.70,78.41 L821.20,78.42 L821.70,78.44 L822.20,78.46 L822.70,78.48 L823.20,78.51 L823.70,78.55 L824.20,78.58 L824.70,78.63 L825.20,78.67 L825.70,78.72 L826.20,78.78 L826.70,78.84 L827.20,78.90 L827.70,78.97 L828.20,79.04 L828.70,79.12 L829.20,79.20 L829.70,79.29 L830.20,79.38 L830.70,79.48 L831.20,79.58 L831.70,79.68 L832.20,79.79 L832.70,79.91 L833.20,80.03 L833.70,80.15 L834.20,80.28 L834.70,80.41 L835.20,80.55 L835.70,80.69 L836.20,80.84 L836.70,80.99 L837.20,81.14 L837.70,81.31 L838.20,81.47 L838.70,81.64 L839.20,81.82 L839.70,82.00 L840.20,82.19 L840.70,82.38 L841.20,82.57 L841.70,82.77 L842.20,82.98 L842.70,83.19 L843.20,83.40 L843.70,83.62 L844.20,83.85 L844.70,84.08 L845.20,84.31 L845.70,84.56 L846.20,84.80 L846.70,85.05 L847.20,85.31 L847.70,85.56 L848.20,85.83 L848.70,86.10 L849.20,86.37 L849.70,86.65 L850.20,86.93 L850.70,87.22 L851.20,87.51 L851.70,87.81 L852.20,88.11 L852.70,88.41 L853.20,88.72 L853.70,89.03 L854.20,89.35 L854.70,89.67 L855.20,89.99 L855.70,90.32 L856.20,90.65 L856.70,90.99 L857.20,91.33 L857.70,91.68 L858.20,92.02 L858.70,92.38 L859.20,92.73 L859.70,93.09 L860.20,93.45 L860.70,93.82 L861.20,94.19 L861.70,94.56 L862.20,94.94 L862.70,95.32 L863.20,95.70 L863.70,96.08 L864.20,96.47 L864.70,96.87 L865.20,97.26 L865.70,97.66 L866.20,98.06 L866.70,98.46 L867.20,98.87 L867.70,99.28 L868.20,99.69 L868.70,100.11 L869.20,100.53 L869.70,100.95 L870.20,101.37 L870.70,101.80 L871.20,102.23 L871.70,102.66 L872.20,103.09 L872.70,103.53 L873.20,103.96 L873.70,104.40 L874.20,104.85 L874.70,105.29 L875.20,105.74 L875.70,106.19 L876.20,106.64 L876.70,107.09 L877.20,107.55 L877.70,108.00 L878.20,108.46 L878.70,108.92 L879.20,109.38 L879.70,109.85 L880.20,110.31 L880.70,110.78 L881.20,111.25 L881.70,111.72 L882.20,112.19 L882.70,112.66 L883.20,113.14 L883.70,113.62 L884.20,114.09 L884.70,114.57 L885.20,115.06 L885.70,115.54 L886.20,116.02 L886.70,116.51 L887.20,117.00 L887.70,117.49 L888.20,117.98 L888.70,118.47 L889.20,118.96 L889.70,119.46 L890.20,119.96 L890.70,120.45 L891.20,120.95 L891.70,121.46 L892.20,121.96 L892.70,122.46 L893.20,122.97 L893.70,123.48 L894.20,123.99 L894.70,124.50 L895.20,125.01 L895.70,125.52 L896.20,126.04 L896.70,126.56 L897.20,127.07 L897.70,127.59 L898.20,128.11 L898.70,128.64 L899.20,129.16 L899.70,129.69 L900.20,130.22 L900.70,130.75 L901.20,131.28 L901.70,131.81 L902.20,132.35 L902.70,132.89 L903.20,133.43 L903.70,133.97 L904.20,134.51 L904.70,135.06 L905.20,135.61 L905.70,136.16 L906.20,136.71 L906.70,137.26 L907.20,137.82 L907.70,138.38 L908.20,138.94 L908.70,139.51 L909.20,140.07 L909.70,140.64 L910.20,141.22 L910.70,141.79 L911.20,142.37 L911.70,142.95 L912.20,143.53 L912.70,144.11 L913.20,144.70 L913.70,145.29 L914.20,145.88 L914.70,146.48 L915.20,147.08 L915.70,147.68 L916.20,148.29 L916.70,148.90 L917.20,149.51 L917.70,150.12 L918.20,150.74 L918.70,151.35 L919.20,151.98 L919.70,152.60 L920.20,153.23 L920.70,153.85 L921.20,154.48 L921.70,155.12 L922.20,155.75 L922.70,156.39 L923.20,157.02 L923.70,157.66 L924.20,158.30 L924.70,158.95 L925.20,159.59 L925.70,160.23 L926.20,160.88 L926.70,161.53 L927.20,162.17 L927.70,162.82 L928.20,163.47 L928.70,164.12 L929.20,164.77 L929.70,165.42 L930.20,166.07 L930.70,166.73 L931.20,167.38" fill="none" stroke="#777" stroke-width="2.6" stroke-linejoin="round"/>
<line x1="157.4" y1="78.2" x2="194.8" y2="109.2" stroke="#a3a3a3" stroke-width="1.2"/>
<line x1="179.5" y1="268.3" x2="210.3" y2="290.3" stroke="#777" stroke-width="1.2"/>
<line x1="431.6" y1="466.7" x2="466.3" y2="428.7" stroke="#555" stroke-width="1.2"/>
<line x1="496.2" y1="559.6" x2="530.7" y2="522" stroke="#555" stroke-width="1.2"/>
<line x1="543.3" y1="408.3" x2="578.8" y2="438.3" stroke="#888" stroke-width="1.2"/>
<text x="104.5" y="69" font-family='"Liberation Sans", Arial, Helvetica, sans-serif' font-size="20" fill="#aaaaaa" stroke="#aaaaaa" stroke-width="0.35" >source voltage</text>
<text x="171.6" y="316" font-family='"Liberation Sans", Arial, Helvetica, sans-serif' font-size="20" fill="#6e6e6e" stroke="#6e6e6e" stroke-width="0.35" >current</text>
<text x="386.5" y="63.8" font-family='"Liberation Sans", Arial, Helvetica, sans-serif' font-size="17.5" fill="#474747" stroke="#474747" stroke-width="0.35" >arcing time</text>
<text x="376.2" y="91.5" font-family='"Liberation Sans", Arial, Helvetica, sans-serif' font-size="17.3" fill="#474747" stroke="#474747" stroke-width="0.35" >re-ignition window</text>
<text x="0" y="0" font-family='"Liberation Sans", Arial, Helvetica, sans-serif' font-size="19.5" fill="#6c6c6c" stroke="#6c6c6c" stroke-width="0.35" transform="translate(589.2,449.4) scale(1,1.08)">TRV</text>
<text x="0" y="0" font-family='"Liberation Sans", Arial, Helvetica, sans-serif' font-size="19" fill="#6c6c6c" stroke="#6c6c6c" stroke-width="0.35" transform="translate(807.2,103.6) scale(1,1.14)">RV</text>
<text x="0" y="0" font-family='"Liberation Sans", Arial, Helvetica, sans-serif' font-size="19.8" fill="#474747" stroke="#474747" stroke-width="0.35" transform="translate(392.5,490) scale(1,1.04)">RRDS</text>
<text x="412.5" y="570.7" font-family='"Liberation Sans", Arial, Helvetica, sans-serif' font-size="19.8" fill="#474747" stroke="#474747" stroke-width="0.35" >recovery</text>
<text x="938.5" y="236.6" font-family='"Liberation Serif", serif' font-style="italic" font-size="31" fill="#333">t</text>
<text transform="translate(562,179.7) rotate(-90)" font-family='"Liberation Sans", Arial, Helvetica, sans-serif' font-size="19.71" fill="#474747" stroke="#474747" stroke-width="0.35">chopping current</text>
<text transform="translate(295.2,560.3) rotate(-90)" font-family='"Liberation Sans", Arial, Helvetica, sans-serif' font-size="19.88" fill="#474747" stroke="#474747" stroke-width="0.35">controlled instant of contact separation</text>
</svg>
</body></html>
